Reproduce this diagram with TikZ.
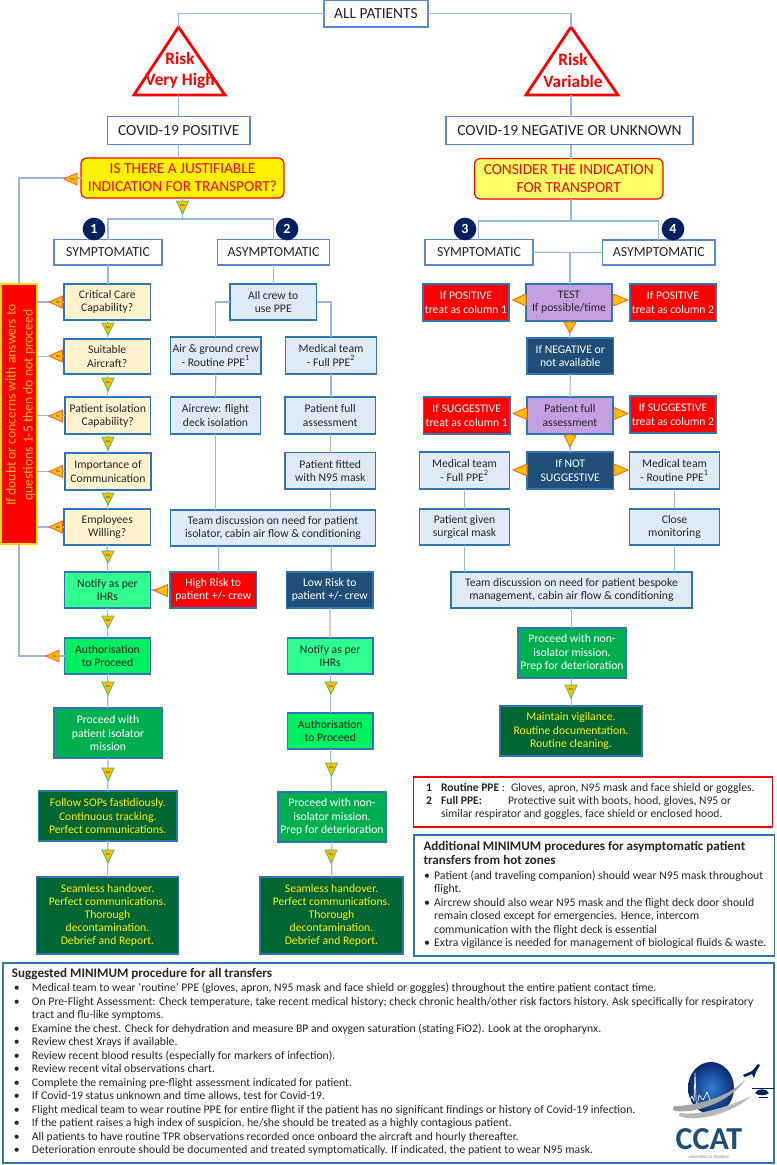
\documentclass[tikz,border=0pt]{standalone}
\usepackage{fontspec}
\setmainfont{Carlito}
\usetikzlibrary{calc}
\definecolor{linkblue}{HTML}{9DB7E4}
\definecolor{plainedge}{HTML}{5B86D0}
\definecolor{boxedge}{HTML}{2E75B6}
\definecolor{ink}{HTML}{262626}
\definecolor{cream}{HTML}{FFF2CC}
\definecolor{pale}{HTML}{DEEAF6}
\definecolor{lilac}{HTML}{C3A0E0}
\definecolor{navybox}{HTML}{1F4E79}
\definecolor{navydot}{HTML}{002060}
\definecolor{mint}{HTML}{2EFF8E}
\definecolor{spring}{HTML}{00F064}
\definecolor{midgreen}{HTML}{00B050}
\definecolor{darkgreen}{HTML}{006633}
\definecolor{softyellow}{HTML}{FFFF66}
\definecolor{amber}{HTML}{FFC000}
\definecolor{edgeyellow}{HTML}{FFDC00}
\definecolor{tipedge}{HTML}{FF5A20}
\definecolor{tipgreen}{HTML}{3CC060}
\definecolor{globelight}{HTML}{2F80D8}
\definecolor{globedark}{HTML}{0A2A70}
\newcommand\bx[7]{\node[#2,minimum width={(#5-#3)*0.75pt},minimum height={(#6-#4)*0.75pt}] (#1) at ({(#3+#5)/2},{(#4+#6)/2}) {#7};}
% small pointers: name, position along the line, base, tip
\newcommand\yesmark[4]{\draw[yestip] (#2-6,#3)--(#2+6,#3)--(#2,#4)--cycle;
  \node[tiptext] (#1) at (#2,{#3+(#4-#3)*0.33}) {Yes};}
\newcommand\nomark[4]{\draw[notip] (#3,#2-6)--(#3,#2+6)--(#4,#2)--cycle;
  \node[tiptext] (#1) at ({#3+(#4-#3)*0.33},#2) {No};}
\newcommand\sideL[3]{\draw[bigtip] (#2,#1-6)--(#2,#1+6)--(#3,#1)--cycle;}
\newcommand\downT[3]{\draw[bigtip] (#1-6,#2)--(#1+6,#2)--(#1,#3)--cycle;}
\newcommand\blt{\makebox[7.5pt][l]{•}}
\newcommand\gap{\makebox[7.5pt]{}}
\newcommand\bltb{\makebox[13.5pt][l]{•}}
\newcommand\gapb{\makebox[13.5pt]{}}
\newcommand\headfont{\bfseries\fontsize{9.8}{11.6}\selectfont}
\begin{document}
\begin{tikzpicture}[x=0.75pt,y=-0.75pt,
  every node/.style={inner sep=0pt,outer sep=0pt,align=center,text=ink,font=\fontsize{8.75}{9.85}\selectfont},
  headbox/.style={draw=plainedge,line width=0.8pt,fill=white,font=\fontsize{11.6}{13}\selectfont},
  colbox/.style={draw=plainedge,line width=0.8pt,fill=white,font=\fontsize{10.4}{12}\selectfont},
  qbox/.style={draw=boxedge,line width=1pt,fill=cream},
  infobox/.style={draw=boxedge,line width=1pt,fill=pale},
  lilacbox/.style={draw=boxedge,line width=1pt,fill=lilac},
  redbox/.style={draw=boxedge,line width=1pt,fill=red,text=white},
  navyb/.style={draw=boxedge,line width=1pt,fill=navybox,text=white},
  mintbox/.style={draw=boxedge,line width=1pt,fill=mint},
  springbox/.style={draw=boxedge,line width=1pt,fill=spring},
  midbox/.style={draw=boxedge,line width=1pt,fill=midgreen,text=white},
  deepbox/.style={draw=boxedge,line width=1pt,fill=darkgreen,text=yellow},
  askbox/.style={draw=red,line width=0.9pt,rounded corners=4.5pt,text=red,font=\fontsize{11.5}{13.5}\selectfont},
  link/.style={draw=linkblue,line width=0.9pt},
  risk/.style={draw=red,line width=2.1pt,fill=white,miter limit=10},
  risktext/.style={text=red,font=\bfseries\fontsize{13}{15.8}\selectfont},
  dot/.style={circle,fill=navydot,text=white,minimum size=17pt,font=\bfseries\fontsize{10.5}{12}\selectfont},
  yestip/.style={draw=tipgreen,line width=0.6pt,fill=amber},
  notip/.style={draw=tipedge,line width=0.6pt,fill=amber},
  bigtip/.style={draw=tipedge,line width=0.6pt,fill=amber},
  tiptext/.style={text=ink,font=\fontsize{2.6}{3}\selectfont},
  listtext/.style={align=left,anchor=north west}]

\useasboundingbox (0,0) rectangle (776,1165);
\fill[white] (0,0) rectangle (776,1165);

% --- top of the chart
\bx{all}{headbox}{324}{0.5}{428}{27}{ALL PATIENTS}
\bx{pos}{headbox}{107.5}{116.5}{250}{144.5}{COVID-19 POSITIVE}
\bx{neg}{headbox}{446}{116.5}{693}{144.5}{COVID-19 NEGATIVE OR UNKNOWN}
\bx{ask}{askbox,fill=yellow}{81}{158}{284}{198}{IS THERE A JUSTIFIABLE\\INDICATION FOR TRANSPORT?}
\bx{consider}{askbox,fill=softyellow}{474.5}{158.5}{663}{199}{CONSIDER THE INDICATION\\FOR TRANSPORT}
\bx{symA}{colbox}{54}{239.5}{162}{265}{SYMPTOMATIC}
\bx{asymA}{colbox}{217.5}{239.5}{329.5}{265}{ASYMPTOMATIC}
\bx{symB}{colbox}{425}{239.5}{533}{265}{SYMPTOMATIC}
\bx{asymB}{colbox}{602.5}{240}{715}{265}{ASYMPTOMATIC}

% --- risk triangles
\coordinate (triAtop) at (178.5,27);
\coordinate (triAbase) at (178.5,95);
\coordinate (triBtop) at (571,27);
\coordinate (triBbase) at (571,95);
\draw[risk] (triAtop) -- (134,95) -- (225,95) -- cycle;
\draw[risk] (triBtop) -- (526,95) -- (618,95) -- cycle;
\node[risktext] (riskA) at (180,70) {Risk\\Very High};
\node[risktext] (riskB) at (573,70.5) {Risk\\Variable};

% --- symptomatic questions
\node[draw=edgeyellow,line width=1pt,fill=red,minimum width=27pt,minimum height=195pt] (doubtbox) at (19,414) {};
\node[rotate=90,text=amber,font=\fontsize{10.2}{12.7}\selectfont] (doubt) at (20.5,405) {If doubt or concerns with answers to\\questions 1-5 then do not proceed};
\bx{crit}{qbox}{64}{284}{150.5}{320}{Critical Care\\Capability?}
\bx{craft}{qbox}{64}{339}{150.5}{374}{Suitable\\Aircraft?}
\bx{iso}{qbox}{65}{397}{150.5}{434}{Patient isolation\\Capability?}
\bx{comm}{qbox}{65}{453}{151}{490}{Importance of\\Communication}
\bx{will}{qbox}{64}{509}{150.5}{545}{Employees\\Willing?}
\bx{notA}{mintbox}{64.5}{572}{150.5}{608}{Notify as per\\IHRs}
\bx{authA}{springbox}{64.5}{638}{150.5}{674}{Authorisation\\to Proceed}
\bx{goA}{midbox}{54}{708}{162}{758}{Proceed with\\patient isolator\\mission}
\bx{sops}{deepbox}{38.5}{791}{177}{841}{Follow SOPs fastidiously.\\Continuous tracking.\\Perfect communications.}
\bx{handA}{deepbox}{36.5}{877}{178.5}{954}{Seamless handover.\\Perfect communications.\\Thorough\\decontamination.\\Debrief and Report.}

% --- asymptomatic column
\bx{crew}{infobox}{230}{284}{316.5}{320}{All crew to\\use PPE}
\bx{ground}{infobox}{170.5}{337}{261}{374}{Air \& ground crew\\- Routine PPE\textsuperscript{1}}
\bx{medA}{infobox}{285.5}{337}{376.5}{374}{Medical team\\- Full PPE\textsuperscript{2}}
\bx{deck}{infobox}{170.5}{397}{260.5}{434}{Aircrew: flight\\deck isolation}
\bx{fullA}{infobox}{285}{397}{375.5}{434}{Patient full\\assessment}
\bx{n95}{infobox}{285}{452.5}{375.5}{489}{Patient fitted\\with N95 mask}
\bx{teamA}{infobox}{170.5}{510}{375.5}{546}{Team discussion on need for patient\\isolator, cabin air flow \& conditioning}
\bx{high}{redbox}{170}{572}{256.5}{608}{High Risk to\\patient +/- crew}
\bx{low}{navyb}{286.5}{572}{373}{608}{Low Risk to\\patient +/- crew}
\bx{notB}{mintbox}{287.5}{638}{373}{674}{Notify as per\\IHRs}
\bx{authB}{springbox}{287.5}{713}{373}{749}{Authorisation\\to Proceed}
\bx{goB}{midbox}{278}{792}{386}{842}{Proceed with non-\\isolator mission.\\Prep for deterioration}
\bx{handB}{deepbox}{260}{877}{403}{954}{Seamless handover.\\Perfect communications.\\Thorough\\decontamination.\\Debrief and Report.}

% --- right-hand columns
\bx{test}{lilacbox}{526}{284}{612}{321}{TEST\\If possible/time}
\bx{posL}{redbox}{423}{284}{509}{321}{If POSITIVE\\treat as column 1}
\bx{posR}{redbox}{630}{284}{716}{321}{If POSITIVE\\treat as column 2}
\bx{negav}{navyb}{527}{338}{613.5}{374}{If NEGATIVE or\\not available}
\bx{fullB}{lilacbox}{527}{397}{613}{434}{Patient full\\assessment}
\bx{sugL}{redbox}{423.5}{397}{510}{434}{If SUGGESTIVE\\treat as column 1}
\bx{sugR}{redbox}{630}{396}{716}{433}{If SUGGESTIVE\\treat as column 2}
\bx{notsug}{navyb}{527}{452}{613.5}{489}{If NOT\\SUGGESTIVE}
\bx{medL}{infobox}{419.5}{452}{509.5}{489}{Medical team\\- Full PPE\textsuperscript{2}}
\bx{medR}{infobox}{629.5}{452}{719.5}{489}{Medical team\\- Routine PPE\textsuperscript{1}}
\bx{surg}{infobox}{419.5}{509}{509.5}{545}{Patient given\\surgical mask}
\bx{close}{infobox}{629.5}{509}{719.5}{545}{Close\\monitoring}
\bx{teamB}{infobox}{451}{572}{692}{608}{Team discussion on need for patient bespoke\\management, cabin air flow \& conditioning}
\bx{goC}{midbox}{518}{628}{626}{678}{Proceed with non-\\isolator mission.\\Prep for deterioration}
\bx{keep}{deepbox}{500}{706}{642}{756}{Maintain vigilance.\\Routine documentation.\\Routine cleaning.}

% --- connectors
\coordinate (forkA) at (182.5,219);
\coordinate (forkB) at (571,221);
\coordinate (joinB) at (570,253);
\draw[link] (all.west) -| (triAtop);
\draw[link] (all.east) -| (triBtop);
\draw[link] (triAbase) -- (triAbase |- pos.north);
\draw[link] (triAbase |- pos.south) -- (triAbase |- ask.north);
\draw[link] (triBbase) -- (triBbase |- neg.north);
\draw[link] (triBbase |- neg.south) -- (triBbase |- consider.north);
\draw[link] (ask.west) -| (doubtbox.north);
\draw[link] (ask.south) -- (forkA);
\draw[link] (forkA) -| (symA.north);
\draw[link] (forkA) -| (asymA.north);
\draw[link] (forkB |- consider.south) -- (forkB);
\draw[link] (forkB) -| ($(symB.north)+(-0.5,0)$);
\draw[link] (forkB) -| (asymB.north);
\draw[link] (symB.east) -- (asymB.west);
\draw[link] (joinB) -- (joinB |- test.north);
\draw[link] (symA.south) -- (symA.south |- crit.north);
\draw[link] (crit) -- (craft);
\draw[link] (craft) -- (iso);
\draw[link] (iso) -- (comm);
\draw[link] (comm) -- (will);
\draw[link] (will) -- (notA);
\draw[link] (notA) -- (authA);
\draw[link] (authA) -- (goA);
\draw[link] (goA) -- (sops);
\draw[link] (sops) -- (handA);
\draw[link] (doubtbox.south) |- (authA.west);
\foreach \q in {crit,craft,iso,comm,will}{\draw[link] (doubtbox.east |- \q.west) -- (\q.west);}
\draw[link] (asymA.south) -- (asymA.south |- crew.north);
\draw[link] (crew.west) -| (ground.north);
\draw[link] (crew.east) -| (medA.north);
\draw[link] (ground) -- (deck);
\draw[link] (medA.south) -- (medA.south |- fullA.north);
\draw[link] (fullA) -- (n95);
\draw[link] (deck.south) -- (deck.south |- teamA.north);
\draw[link] (n95.south) -- (n95.south |- teamA.north);
\draw[link] ($(teamA.south)+(-54.5,0)$) -- ($(high.north)+(5.5,0)$);
\draw[link] ($(teamA.south)+(58.5,0)$) -- ($(low.north)+(1.5,0)$);
\draw[link] (notA.east) -- (high.west);
\draw[link] (low) -- (notB);
\draw[link] (notB) -- (authB);
\draw[link] (authB) -- (goB);
\draw[link] (goB) -- (handB);
\draw[link] (test) -- (negav);
\draw[link] (negav) -- (fullB);
\draw[link] (fullB) -- (notsug);
\draw[link] (medL) -- (surg);
\draw[link] (medR) -- (close);
\draw[link] (surg.south) -- (surg.south |- teamB.north);
\draw[link] (close.south) -- (close.south |- teamB.north);
\draw[link] (teamB.south) -- (teamB.south |- goC.north);
\draw[link] (goC) -- (keep);

% --- numbered discs
\node[dot] (one) at (94,229) {1};
\node[dot] (two) at (287,229) {2};
\node[dot] (three) at (465,229) {3};
\node[dot] (four) at (673,229) {4};

% --- pointers on the lines
\yesmark{y0}{182.5}{201}{214}
\yesmark{y1}{108}{323}{335}
\yesmark{y2}{108}{378}{391}
\yesmark{y3}{108}{437}{450}
\yesmark{y4}{108}{493}{505}
\yesmark{y5}{108}{551}{563}
\yesmark{y6}{108}{616}{628}
\yesmark{y7}{108}{682}{695}
\yesmark{y8}{108}{768}{781}
\yesmark{y9}{108}{850}{863}
\yesmark{y10}{331}{682}{694}
\yesmark{y11}{331.5}{763}{776}
\yesmark{y12}{331}{850}{863}
\yesmark{y13}{571}{685}{698}
\nomark{n0}{179}{77}{64}
\nomark{n1}{302}{62.5}{49}
\nomark{n2}{356}{62.5}{49}
\nomark{n3}{416}{62.5}{49}
\nomark{n4}{471.5}{62.5}{49}
\nomark{n5}{527}{62.5}{49}
\nomark{n6}{656}{59}{46}
\sideL{590.5}{167.5}{154}
\sideL{300}{526}{512.5}
\sideL{300}{613}{628}
\downT{570}{322}{333}
\sideL{413.5}{527}{513}
\sideL{413.5}{614}{628}
\downT{570}{435}{447}
\sideL{470}{527}{513}
\sideL{470}{614}{628}

% --- notes on the right
\node[draw=red,line width=0.9pt,fill=white,minimum width=269.25pt,minimum height=37.5pt] (ppebox) at (593.25,802) {};
\node[listtext,font=\fontsize{8.7}{10}\selectfont] (ppetext) at (426,783) {%
\makebox[11.25pt][l]{\textbf{1}}\makebox[52.5pt][l]{\textbf{Routine PPE} :}Gloves, apron, N95 mask and face shield or goggles.\\
\makebox[11.25pt][l]{\textbf{2}}\makebox[50.25pt][l]{\textbf{Full PPE:}}Protective suit with boots, hood, gloves, N95 or\\
\hspace*{11.25pt}similar respirator and goggles, face shield or enclosed hood.};

\node[draw=boxedge,line width=1pt,fill=white,minimum width=270.4pt,minimum height=90.75pt] (hotbox) at (594.25,895.5) {};
\node[listtext,font=\fontsize{8.8}{10.1}\selectfont] (hottext) at (423.5,841.5) {%
\headfont Additional MINIMUM procedures for asymptomatic patient\\
\headfont transfers from hot zones\\[1.2pt]
\hspace*{0.5pt}\blt Patient (and traveling companion) should wear N95 mask throughout\\
\hspace*{0.5pt}\gap flight.\\
\hspace*{0.5pt}\blt Aircrew should also wear N95 mask and the flight deck door should\\
\hspace*{0.5pt}\gap remain closed except for emergencies. Hence, intercom\\
\hspace*{0.5pt}\gap communication with the flight deck is essential\\
\hspace*{0.5pt}\blt Extra vigilance is needed for management of biological fluids \& waste.};

% --- procedure for all transfers
\node[draw=boxedge,line width=1pt,fill=white,minimum width=578.25pt,minimum height=150pt] (allbox) at (388.5,1063) {};
\node[listtext,font=\fontsize{8.75}{10.1}\selectfont] (alltext) at (12,968.5) {%
\bfseries\fontsize{9.8}{10.1}\selectfont Suggested MINIMUM procedure for all transfers\\[0.6pt]
\hspace*{1.5pt}\bltb Medical team to wear ‘routine’ PPE (gloves, apron, N95 mask and face shield or goggles) throughout the entire patient contact time.\\
\hspace*{1.5pt}\bltb On Pre-Flight Assessment: Check temperature, take recent medical history; check chronic health/other risk factors history. Ask specifically for respiratory\\
\hspace*{1.5pt}\gapb tract and flu-like symptoms.\\
\hspace*{1.5pt}\bltb Examine the chest. Check for dehydration and measure BP and oxygen saturation (stating FiO2). Look at the oropharynx.\\
\hspace*{1.5pt}\bltb Review chest Xrays if available.\\
\hspace*{1.5pt}\bltb Review recent blood results (especially for markers of infection).\\
\hspace*{1.5pt}\bltb Review recent vital observations chart.\\
\hspace*{1.5pt}\bltb Complete the remaining pre-flight assessment indicated for patient.\\
\hspace*{1.5pt}\bltb If Covid-19 status unknown and time allows, test for Covid-19.\\
\hspace*{1.5pt}\bltb Flight medical team to wear routine PPE for entire flight if the patient has no significant findings or history of Covid-19 infection.\\
\hspace*{1.5pt}\bltb If the patient raises a high index of suspicion, he/she should be treated as a highly contagious patient.\\
\hspace*{1.5pt}\bltb All patients to have routine TPR observations recorded once onboard the aircraft and hourly thereafter.\\
\hspace*{1.5pt}\bltb Deterioration enroute should be documented and treated symptomatically. If indicated, the patient to wear N95 mask.};

% --- training logo
\shade[inner color=globelight,outer color=globedark] (711,1088) ellipse (23 and 26);
\draw[white,line width=0.5pt,line join=round] (682,1099) -- (690,1100) -- (692,1096) -- (694,1101) -- (695,1073) -- (696.5,1110) -- (699,1095) -- (703,1100) -- (707,1092) -- (710,1100);
\fill[gray!70] (675,1106) .. controls (690,1106) and (725,1100) .. (745,1080) .. controls (730,1102) and (695,1114) .. (675,1111) .. controls (672,1110) and (672,1107) .. (675,1106) -- cycle;
\fill[gray!55] (680,1113) .. controls (700,1116) and (730,1106) .. (751,1096) .. controls (735,1112) and (700,1122) .. (682,1117) .. controls (678,1116) and (678,1114) .. (680,1113) -- cycle;
\fill[navydot] (743,1075) -- (752,1071) -- (758,1064) -- (760,1065) -- (756,1072) -- (754,1078) -- (752,1074) -- (745,1077) -- cycle;
\fill[navydot] (755,1093) .. controls (758,1088) and (766,1088) .. (769,1093) .. controls (766,1096) and (758,1096) .. (755,1093) -- cycle;
\draw[navydot,line width=0.5pt] (752,1088) -- (774,1088);
\draw[navydot,line width=0.5pt] (759,1097) -- (768,1097);
\node[text=navybox,font=\bfseries\fontsize{24}{26}\selectfont] (ccat) at (709,1139) {CCAT};
\node[text=gray,font=\fontsize{3}{4}\selectfont] (aero) at (709,1157) {AEROMEDICAL TRAINING};
\end{tikzpicture}
\end{document}
